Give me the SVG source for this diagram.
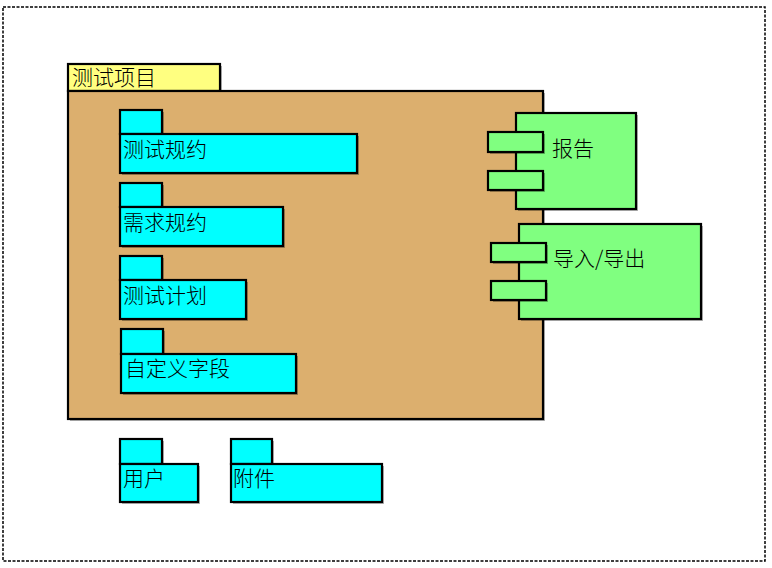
<svg xmlns="http://www.w3.org/2000/svg" width="772" height="568" viewBox="0 0 772 568">
<style>
.frame{fill:none;stroke:#000;stroke-width:1.5;stroke-dasharray:3,1.5}
.b{stroke:#000;stroke-width:2.2}
.sh{fill:#000;opacity:0.3}
.cy{fill:#00FFFF}
.gr{fill:#80FF80}
.tan{fill:#DCAF6E}
.yl{fill:#FFFF80}
text{font-family:"Noto Sans CJK SC","Noto Sans",sans-serif;font-size:21px;font-weight:300;fill:#000}
</style>
<rect width="772" height="568" fill="#fff"/>
<rect class="frame" x="3" y="7" width="762" height="554"/>
<g id="pkg">
<rect class="sh" x="70" y="66" width="152" height="27"/>
<rect class="sh" x="70" y="93" width="475" height="328"/>
<rect class="yl b" x="68" y="64" width="152" height="27"/>
<rect class="tan b" x="68" y="91" width="475" height="328"/>
<text x="72" y="85">测试项目</text>
</g>
<g id="c1">
<rect class="sh" x="122" y="112" width="42" height="24"/>
<rect class="sh" x="122" y="136" width="237" height="39"/>
<rect class="cy b" x="120" y="110" width="42" height="24"/>
<rect class="cy b" x="120" y="134" width="237" height="39"/>
<text x="123" y="157">测试规约</text>
</g>
<g id="c2">
<rect class="sh" x="122" y="185" width="42" height="24"/>
<rect class="sh" x="122" y="209" width="163" height="39"/>
<rect class="cy b" x="120" y="183" width="42" height="24"/>
<rect class="cy b" x="120" y="207" width="163" height="39"/>
<text x="123" y="230">需求规约</text>
</g>
<g id="c3">
<rect class="sh" x="122" y="258" width="42" height="24"/>
<rect class="sh" x="122" y="282" width="126" height="39"/>
<rect class="cy b" x="120" y="256" width="42" height="24"/>
<rect class="cy b" x="120" y="280" width="126" height="39"/>
<text x="123" y="303">测试计划</text>
</g>
<g id="c4">
<rect class="sh" x="123" y="331" width="42" height="25"/>
<rect class="sh" x="123" y="356" width="175" height="39"/>
<rect class="cy b" x="121" y="329" width="42" height="25"/>
<rect class="cy b" x="121" y="354" width="175" height="39"/>
<text x="125" y="376">自定义字段</text>
</g>
<g id="c5">
<rect class="sh" x="122" y="441" width="42" height="25"/>
<rect class="sh" x="122" y="466" width="78" height="38"/>
<rect class="cy b" x="120" y="439" width="42" height="25"/>
<rect class="cy b" x="120" y="464" width="78" height="38"/>
<text x="123" y="486">用户</text>
</g>
<g id="c6">
<rect class="sh" x="233" y="441" width="41" height="25"/>
<rect class="sh" x="233" y="466" width="151" height="38"/>
<rect class="cy b" x="231" y="439" width="41" height="25"/>
<rect class="cy b" x="231" y="464" width="151" height="38"/>
<text x="233" y="486">附件</text>
</g>
<g id="r1">
<rect class="sh" x="518" y="115" width="120" height="96"/>
<rect class="gr b" x="516" y="113" width="120" height="96"/>
<rect class="sh" x="490" y="134" width="55" height="20"/>
<rect class="gr b" x="488" y="132" width="55" height="20"/>
<rect class="sh" x="490" y="173" width="55" height="19"/>
<rect class="gr b" x="488" y="171" width="55" height="19"/>
<text x="552" y="156">报告</text>
</g>
<g id="r2">
<rect class="sh" x="521" y="226" width="182" height="95"/>
<rect class="gr b" x="519" y="224" width="182" height="95"/>
<rect class="sh" x="493" y="245" width="55" height="19"/>
<rect class="gr b" x="491" y="243" width="55" height="19"/>
<rect class="sh" x="493" y="283" width="55" height="19"/>
<rect class="gr b" x="491" y="281" width="55" height="19"/>
<text x="553" y="266">导入/导出</text>
</g>
<g id="connectors"></g>
</svg>
